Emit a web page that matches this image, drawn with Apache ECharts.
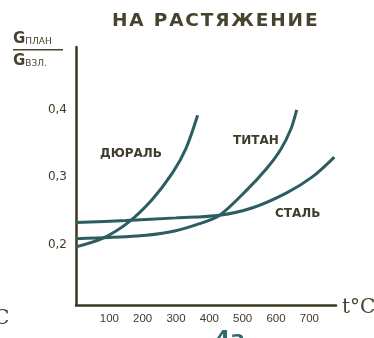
<!DOCTYPE html>
<html>
<head>
<meta charset="utf-8">
<script src="https://cdn.jsdelivr.net/npm/echarts@6/dist/echarts.min.js"></script>
<style>
  html, body { margin: 0; padding: 0; background: #ffffff; }
  #chart { width: 374px; height: 338px; }
</style>
</head>
<body>
<div id="chart"></div>
<script>
// Ratio of allowable stress (σ план / σ взл) versus temperature, in tension
const titleText = 'НА РАСТЯЖЕНИЕ';

// temperature, °C  /  stress ratio
const duralT   = [0, 81, 156, 228, 290, 330, 365];
const duralV   = [0.197, 0.210, 0.233, 0.267, 0.307, 0.343, 0.392];

const titanT   = [0, 183, 281, 362, 431, 512, 572, 615, 645, 662];
const titanV   = [0.209, 0.213, 0.219, 0.230, 0.244, 0.281, 0.313, 0.342, 0.372, 0.400];

const steelT   = [0, 150, 300, 431, 530, 632, 710, 775];
const steelV   = [0.233, 0.236, 0.240, 0.244, 0.255, 0.277, 0.301, 0.330];

const xTicks = [100, 200, 300, 400, 500, 600, 700];
const yTicks = [0.2, 0.3, 0.4];

const seriesNames = ['ДЮРАЛЬ', 'ТИТАН', 'СТАЛЬ'];

const curveColor = '#2c5d60';
const inkColor = '#3f3b26';
const axisColor = '#3b3720';

function pairs(xs, ys) { return xs.map((x, i) => [x, ys[i]]); }

const chart = echarts.init(document.getElementById('chart'));

const lineSeries = (name, xs, ys) => ({
  name: name,
  type: 'line',
  data: pairs(xs, ys),
  smooth: 0.3,
  showSymbol: false,
  lineStyle: { color: curveColor, width: 3 },
  z: 3
});

chart.setOption({
  backgroundColor: '#ffffff',
  animation: false,
  grid: { left: 76, top: 47, width: 260, height: 258 },
  xAxis: {
    type: 'value', min: 0, max: 780,
    axisLine: { show: true, lineStyle: { color: axisColor, width: 2.5 } },
    axisTick: { show: false },
    splitLine: { show: false },
    axisLabel: {
      customValues: xTicks,
      color: inkColor, fontSize: 11.5, fontFamily: 'Liberation Sans', margin: 8,
      formatter: v => String(v)
    }
  },
  yAxis: {
    type: 'value', min: 0.111, max: 0.493,
    axisLine: { show: true, lineStyle: { color: axisColor, width: 2.5 } },
    axisTick: { show: false },
    splitLine: { show: false },
    axisLabel: {
      customValues: yTicks,
      color: inkColor, fontSize: 12, fontFamily: 'DejaVu Sans', margin: 9,
      formatter: v => v.toFixed(1).replace('.', ',')
    }
  },
  series: [
    lineSeries(seriesNames[0], duralT, duralV),
    lineSeries(seriesNames[1], titanT, titanV),
    lineSeries(seriesNames[2], steelT, steelV)
  ],
  graphic: [
    { type: 'text', left: 112, top: 12,
      style: { text: titleText.split('').join('\u200A'), fill: '#47432f',
               font: 'bold 18.5px "DejaVu Sans"' } },
    // y-axis quantity as a fraction
    { type: 'text', left: 13, top: 32,
      style: { text: '{g|G}{s|ПЛАН}', fill: '#47432f',
               rich: { g: { font: 'bold 15px "DejaVu Sans"', fill: '#47432f' },
                       s: { font: '9px "DejaVu Sans"', fill: '#47432f', padding: [4, 0, 0, 0] } } } },
    { type: 'rect', shape: { x: 13, y: 49, width: 50, height: 1.5 }, style: { fill: '#47432f' } },
    { type: 'text', left: 13, top: 54,
      style: { text: '{g|G}{s|ВЗЛ.}', fill: '#47432f',
               rich: { g: { font: 'bold 15px "DejaVu Sans"', fill: '#47432f' },
                       s: { font: '9px "DejaVu Sans"', fill: '#47432f', padding: [4, 0, 0, 0] } } } },
    // curve names
    { type: 'text', left: 100, top: 148,
      style: { text: seriesNames[0], fill: '#403c2c', font: 'bold 12px "DejaVu Sans"' } },
    { type: 'text', left: 233, top: 135,
      style: { text: seriesNames[1], fill: '#403c2c', font: 'bold 12px "DejaVu Sans"' } },
    { type: 'text', left: 275, top: 208,
      style: { text: seriesNames[2], fill: '#403c2c', font: 'bold 12px "DejaVu Sans"' } },
    // axis unit
    { type: 'text', left: 342, top: 298,
      style: { text: 't°C', fill: '#47432f', font: '20px "DejaVu Serif"' } },
    { type: 'text', left: -6, top: 309,
      style: { text: 'C', fill: '#47432f', font: '20px "DejaVu Serif"' } },
    { type: 'text', left: 215, top: 329,
      style: { text: '4а', fill: '#2c6a70', font: 'bold 22px "DejaVu Sans"' } }
  ]
});
</script>
</body>
</html>
